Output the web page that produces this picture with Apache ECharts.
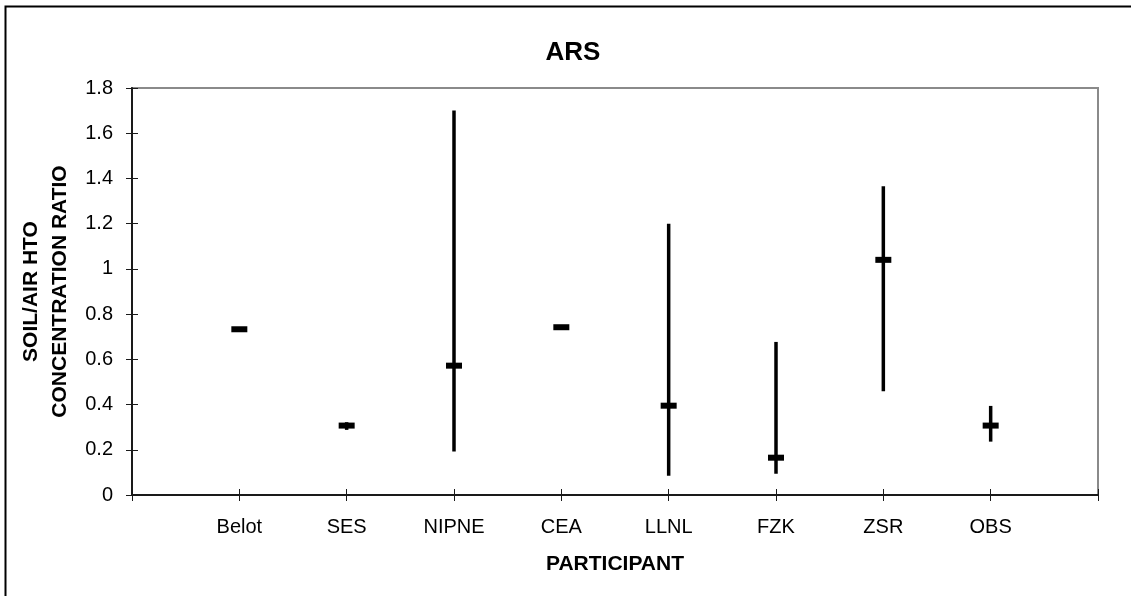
<!DOCTYPE html>
<html>
<head>
<meta charset="utf-8">
<script src="https://cdn.jsdelivr.net/npm/echarts@6/dist/echarts.min.js"></script>
<style>
html,body{margin:0;padding:0;background:#fff;}
#chart{width:1131px;height:596px;}
</style>
</head>
<body>
<div id="chart"></div>
<script>
const participants = ['Belot', 'SES', 'NIPNE', 'CEA', 'LLNL', 'FZK', 'ZSR', 'OBS'];
const meanValues = [0.733, 0.307, 0.572, 0.742, 0.395, 0.165, 1.04, 0.307];
const lowValues  = [null, 0.288, 0.192, null, 0.085, 0.094, 0.459, 0.236];
const highValues = [null, 0.322, 1.701, null, 1.20, 0.677, 1.366, 0.394];
const yTicks = [0, 0.2, 0.4, 0.6, 0.8, 1, 1.2, 1.4, 1.6, 1.8];

const categories = [''].concat(participants).concat(['']);
const FONT = '"Liberation Sans", Arial, sans-serif';

const meanData = participants.map((p, i) => [i + 1, meanValues[i]]);
const errData = [];
participants.forEach((p, i) => {
  if (lowValues[i] != null && highValues[i] != null) errData.push([i + 1, lowValues[i], highValues[i]]);
});

const chart = echarts.init(document.getElementById('chart'), null, {renderer: 'canvas'});
chart.setOption({
  animation: false,
  backgroundColor: '#fff',
  title: {
    text: 'ARS', left: 568, top: 35, textAlign: 'center',
    textStyle: {fontFamily: FONT, fontWeight: 'bold', fontSize: 26, color: '#000'}
  },
  graphic: [{
    type: 'rect', left: 3, top: 4, silent: true,
    shape: {x: 0, y: 0, width: 1300, height: 800},
    style: {fill: 'none', stroke: '#000', lineWidth: 2}
  }],
  grid: {left: 132, top: 88, right: 33, bottom: 101, show: true, borderColor: '#8a8a8a', borderWidth: 2, backgroundColor: 'transparent'},
  xAxis: [{
    type: 'category', data: categories, boundaryGap: false, position: 'bottom',
    name: 'PARTICIPANT', nameLocation: 'middle', nameGap: 59,
    nameTextStyle: {fontFamily: FONT, fontWeight: 'bold', fontSize: 21, color: '#000'},
    axisLine: {show: true, lineStyle: {color: '#1a1a1a', width: 2}},
    axisTick: {show: true, inside: false, length: 6, alignWithLabel: true, interval: 0, lineStyle: {color: '#1a1a1a', width: 1}},
    axisLabel: {show: true, interval: 0, margin: 22, fontFamily: FONT, fontSize: 20, color: '#000'},
    splitLine: {show: false}
  }, {
    type: 'category', data: categories, boundaryGap: false, position: 'bottom',
    axisLine: {show: false},
    axisTick: {show: true, inside: true, length: 6, interval: 0, lineStyle: {color: '#1a1a1a', width: 1}},
    axisLabel: {show: false}, splitLine: {show: false}
  }],
  yAxis: [{
    type: 'value', min: 0, max: 1.8, interval: 0.2, position: 'left',
    name: 'SOIL/AIR HTO\nCONCENTRATION RATIO', nameLocation: 'middle', nameGap: 54, nameRotate: 90,
    nameTextStyle: {fontFamily: FONT, fontWeight: 'bold', fontSize: 21, color: '#000', lineHeight: 29, align: 'center'},
    axisLine: {show: true, lineStyle: {color: '#1a1a1a', width: 2}},
    axisTick: {show: true, inside: false, length: 6, lineStyle: {color: '#1a1a1a', width: 1}},
    axisLabel: {show: true, margin: 19, fontFamily: FONT, fontSize: 20, color: '#000',
      formatter: v => { const t = yTicks.find(x => Math.abs(x - v) < 1e-9); return t == null ? '' : String(t); }},
    splitLine: {show: false}
  }, {
    type: 'value', min: 0, max: 1.8, interval: 0.2, position: 'left',
    axisLine: {show: false},
    axisTick: {show: true, inside: true, length: 6, lineStyle: {color: '#1a1a1a', width: 1}},
    axisLabel: {show: false}, splitLine: {show: false}
  }],
  series: [{
    type: 'custom', xAxisIndex: 0, yAxisIndex: 0, z: 3,
    data: errData,
    encode: {x: 0, y: [1, 2]},
    renderItem: function (params, api) {
      const p1 = api.coord([api.value(0), api.value(1)]);
      const p2 = api.coord([api.value(0), api.value(2)]);
      return {type: 'line', shape: {x1: p1[0], y1: p1[1], x2: p2[0], y2: p2[1]},
        style: {stroke: '#000', lineWidth: 3.5}};
    }
  }, {
    type: 'scatter', xAxisIndex: 0, yAxisIndex: 0, z: 4,
    data: meanData,
    symbol: 'rect', symbolSize: [16, 6],
    itemStyle: {color: '#000', opacity: 1}
  }]
});
</script>
</body>
</html>
